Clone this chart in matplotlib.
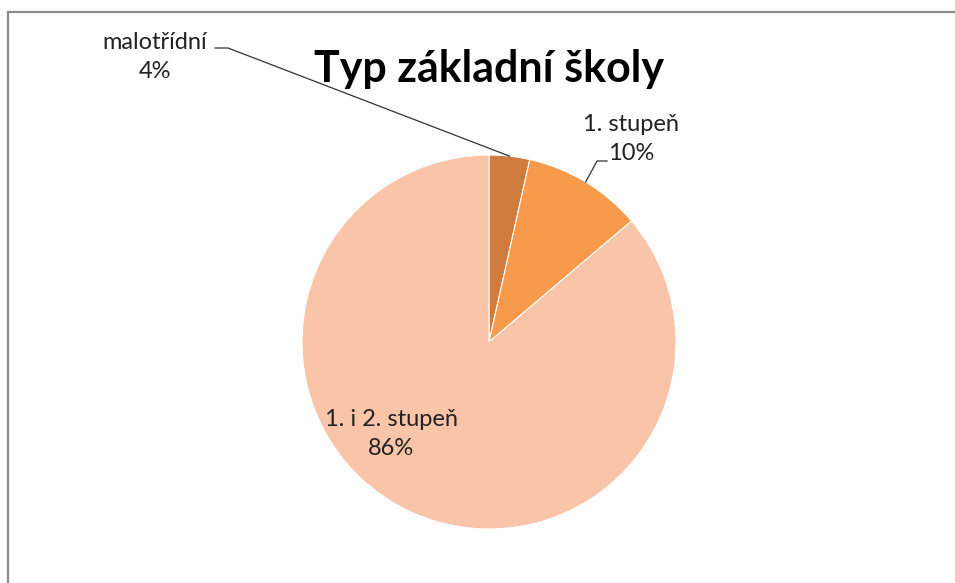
import numpy as np
import matplotlib
matplotlib.use("Agg")
import matplotlib.pyplot as plt
from matplotlib.lines import Line2D

# data
categories = ["malotřídní", "1. stupeň", "1. i 2. stupeň"]
values = [3.5, 10.3, 86.2]
pct_labels = ["4%", "10%", "86%"]
colors = ["#CF7C3E", "#F79A4C", "#FAC4A9"]
title = "Typ základní školy"

W, H = 955, 583
fig = plt.figure(figsize=(W / 100, H / 100), dpi=100)
fig.set_facecolor("white")

# pie placement in pixels (centre and radius)
cx, cy, r = 489, 342, 187
ax = fig.add_axes([(cx - r) / W, (H - cy - r) / H, 2 * r / W, 2 * r / H])
wedges, _ = ax.pie(values, colors=colors, startangle=90, counterclock=False,
                   radius=1.0, wedgeprops=dict(linewidth=0.8, edgecolor="white"))
ax.set_xlim(-1, 1)
ax.set_ylim(-1, 1)
ax.set_aspect("equal")
ax.axis("off")


def px(x, y):
    """pixel position (from top-left) -> pie data coords"""
    return (x - cx) / r, (cy - y) / r


font = "Lato"
label_pos = [(155, 57), (631, 139), (391, 434)]
for cat, pct, (lx, ly) in zip(categories, pct_labels, label_pos):
    x, y = px(lx, ly)
    ax.text(x, y, f"{cat}\n{pct}", ha="center", va="center", fontsize=17,
            family=font, color="#222222", linespacing=1.45, clip_on=False)

# leader lines for the two small slices
elbows = {0: [(215, 48), (228, 48)], 1: [(607, 161), (597, 161)]}
for i, pts in elbows.items():
    w = wedges[i]
    mid = np.deg2rad((w.theta1 + w.theta2) / 2)
    xs = [px(*p)[0] for p in pts] + [np.cos(mid)]
    ys = [px(*p)[1] for p in pts] + [np.sin(mid)]
    ax.plot(xs, ys, color="#333333", linewidth=0.9, clip_on=False)

fig.text(489 / W, 1 - 82 / H, title, ha="center", va="baseline",
         fontsize=31, fontweight="bold", family=font, color="black")

# chart frame (top and left edges visible)
fig.add_artist(Line2D([8 / W, 1], [1 - 12 / H, 1 - 12 / H], color="#8a8a8a", linewidth=1.6))
fig.add_artist(Line2D([8 / W, 8 / W], [0, 1 - 12 / H], color="#8a8a8a", linewidth=1.6))

fig.savefig("out.png", dpi=100, facecolor="white")
